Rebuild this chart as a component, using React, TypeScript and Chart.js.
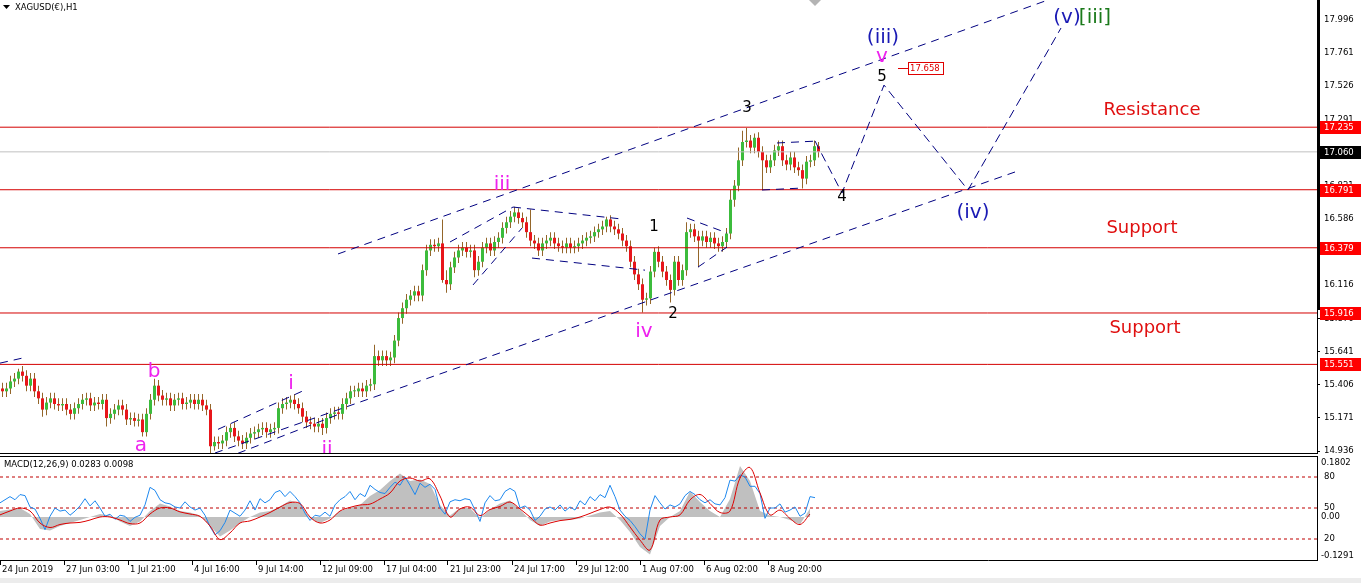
import React, { useEffect, useRef } from "react";
import { Chart, registerables } from "chart.js";
Chart.register(...registerables);

// ---------- DATA ----------
// Candles: each candle covers 4 hourly bars (bar index = hours shown on x axis)
const BARS_PER_CANDLE = 4;
const opens = [
  15.38, 15.36, 15.38, 15.43, 15.45, 15.50, 15.47, 15.40, 15.45, 15.36,
  15.31, 15.23, 15.28, 15.31, 15.27, 15.26, 15.27, 15.23, 15.20, 15.24,
  15.27, 15.30, 15.31, 15.26, 15.28, 15.27, 15.30, 15.17, 15.20, 15.23,
  15.26, 15.23, 15.16, 15.17, 15.15, 15.16, 15.07, 15.20, 15.30, 15.40,
  15.33, 15.30, 15.31, 15.26, 15.30, 15.31, 15.27, 15.28, 15.30, 15.27,
  15.30, 15.26, 15.23, 14.97, 15.00, 14.99, 15.01, 15.07, 15.10, 15.04,
  15.01, 14.99, 15.03, 15.06, 15.07, 15.09, 15.10, 15.07, 15.09, 15.10,
  15.24, 15.27, 15.28, 15.30, 15.27, 15.24, 15.18, 15.14, 15.13, 15.11,
  15.13, 15.10, 15.17, 15.20, 15.21, 15.20, 15.27, 15.31, 15.36, 15.36,
  15.38, 15.36, 15.40, 15.41, 15.61, 15.58, 15.61, 15.58, 15.60, 15.72,
  15.88, 15.95, 16.01, 16.04, 16.07, 16.04, 16.22, 16.36, 16.40, 16.39,
  16.41, 16.15, 16.12, 16.24, 16.31, 16.36, 16.38, 16.35, 16.36, 16.22,
  16.28, 16.38, 16.41, 16.36, 16.42, 16.45, 16.52, 16.56, 16.60, 16.63,
  16.59, 16.56, 16.49, 16.43, 16.41, 16.36, 16.41, 16.43, 16.45, 16.41,
  16.39, 16.38, 16.41, 16.38, 16.39, 16.41, 16.43, 16.45, 16.46, 16.49,
  16.51, 16.53, 16.58, 16.53, 16.51, 16.48, 16.43, 16.39, 16.28, 16.19,
  16.12, 16.01, 16.02, 16.21, 16.35, 16.28, 16.21, 16.15, 16.08, 16.28,
  16.15, 16.22, 16.49, 16.51, 16.46, 16.43, 16.46, 16.42, 16.45, 16.41,
  16.39, 16.42, 16.48, 16.72, 16.82, 17.00, 17.13, 17.14, 17.09, 17.16,
  17.06, 17.00, 16.95, 17.00, 17.07, 17.10, 17.00, 16.97, 17.02, 16.95,
  16.93, 16.87, 16.99, 17.00, 17.10,
];
const highs = [
  15.42, 15.42, 15.47, 15.49, 15.52, 15.54, 15.51, 15.49, 15.49, 15.40,
  15.35, 15.32, 15.35, 15.35, 15.31, 15.31, 15.31, 15.27, 15.28, 15.31,
  15.34, 15.35, 15.35, 15.32, 15.32, 15.34, 15.34, 15.24, 15.27, 15.30,
  15.30, 15.27, 15.21, 15.21, 15.20, 15.20, 15.24, 15.34, 15.45, 15.44,
  15.37, 15.35, 15.35, 15.34, 15.35, 15.35, 15.32, 15.34, 15.34, 15.34,
  15.34, 15.30, 15.27, 15.04, 15.04, 15.05, 15.11, 15.13, 15.14, 15.08,
  15.05, 15.07, 15.10, 15.11, 15.13, 15.14, 15.14, 15.13, 15.14, 15.28,
  15.31, 15.32, 15.33, 15.34, 15.31, 15.28, 15.22, 15.18, 15.17, 15.17,
  15.17, 15.21, 15.24, 15.25, 15.25, 15.31, 15.35, 15.40, 15.40, 15.42,
  15.42, 15.44, 15.45, 15.69, 15.65, 15.65, 15.65, 15.64, 15.76, 15.92,
  15.99, 16.05, 16.08, 16.11, 16.11, 16.26, 16.40, 16.44, 16.44, 16.45,
  16.58, 16.22, 16.28, 16.35, 16.40, 16.42, 16.42, 16.40, 16.40, 16.32,
  16.42, 16.45, 16.45, 16.46, 16.49, 16.56, 16.60, 16.64, 16.67, 16.66,
  16.63, 16.60, 16.65, 16.47, 16.45, 16.45, 16.47, 16.49, 16.49, 16.45,
  16.43, 16.45, 16.45, 16.43, 16.45, 16.47, 16.49, 16.50, 16.53, 16.55,
  16.57, 16.60, 16.61, 16.57, 16.55, 16.52, 16.47, 16.43, 16.32, 16.23,
  16.16, 16.06, 16.25, 16.38, 16.39, 16.32, 16.25, 16.19, 16.32, 16.32,
  16.26, 16.56, 16.55, 16.55, 16.50, 16.50, 16.50, 16.49, 16.49, 16.45,
  16.46, 16.52, 16.79, 16.86, 17.09, 17.21, 17.23, 17.18, 17.19, 17.20,
  17.10, 17.04, 17.04, 17.11, 17.14, 17.14, 17.04, 17.06, 17.06, 16.99,
  16.97, 17.03, 17.04, 17.14, 17.13,
];
const lows = [
  15.32, 15.32, 15.34, 15.39, 15.41, 15.43, 15.36, 15.36, 15.32, 15.27,
  15.18, 15.19, 15.24, 15.23, 15.22, 15.22, 15.19, 15.16, 15.16, 15.20,
  15.23, 15.26, 15.22, 15.22, 15.23, 15.23, 15.11, 15.13, 15.16, 15.19,
  15.19, 15.12, 15.12, 15.11, 15.11, 15.04, 15.04, 15.16, 15.26, 15.29,
  15.26, 15.26, 15.22, 15.22, 15.26, 15.23, 15.23, 15.24, 15.23, 15.23,
  15.22, 15.19, 14.92, 14.94, 14.95, 14.95, 14.97, 15.03, 15.00, 14.97,
  14.95, 14.95, 14.99, 15.02, 15.03, 15.05, 15.03, 15.03, 15.05, 15.06,
  15.20, 15.23, 15.24, 15.23, 15.20, 15.14, 15.10, 15.09, 15.07, 15.07,
  15.05, 15.06, 15.13, 15.16, 15.16, 15.16, 15.23, 15.27, 15.32, 15.32,
  15.32, 15.32, 15.36, 15.37, 15.54, 15.54, 15.54, 15.54, 15.56, 15.68,
  15.84, 15.91, 15.97, 16.00, 16.00, 16.00, 16.18, 16.32, 16.35, 16.35,
  16.13, 16.06, 16.08, 16.20, 16.27, 16.32, 16.31, 16.31, 16.17, 16.18,
  16.24, 16.34, 16.32, 16.32, 16.38, 16.41, 16.48, 16.52, 16.56, 16.55,
  16.52, 16.45, 16.39, 16.37, 16.32, 16.32, 16.37, 16.39, 16.37, 16.35,
  16.34, 16.34, 16.34, 16.34, 16.35, 16.37, 16.39, 16.41, 16.42, 16.45,
  16.47, 16.49, 16.49, 16.47, 16.44, 16.39, 16.35, 16.24, 16.15, 16.08,
  15.92, 15.97, 15.98, 16.17, 16.24, 16.17, 16.11, 15.99, 16.04, 16.11,
  16.11, 16.18, 16.45, 16.42, 16.24, 16.39, 16.38, 16.38, 16.37, 16.35,
  16.35, 16.38, 16.44, 16.67, 16.78, 16.96, 17.09, 17.05, 17.05, 17.02,
  16.79, 16.91, 16.91, 16.96, 17.03, 16.96, 16.93, 16.93, 16.91, 16.89,
  16.80, 16.83, 16.95, 16.96, 17.02,
];
const closes = [
  15.36, 15.38, 15.43, 15.45, 15.50, 15.47, 15.40, 15.45, 15.36, 15.31,
  15.23, 15.28, 15.31, 15.27, 15.26, 15.27, 15.23, 15.20, 15.24, 15.27,
  15.30, 15.31, 15.26, 15.28, 15.27, 15.30, 15.17, 15.20, 15.23, 15.26,
  15.23, 15.16, 15.17, 15.15, 15.16, 15.07, 15.20, 15.30, 15.40, 15.33,
  15.30, 15.31, 15.26, 15.30, 15.31, 15.27, 15.28, 15.30, 15.27, 15.30,
  15.26, 15.23, 14.97, 15.00, 14.99, 15.01, 15.07, 15.10, 15.04, 15.01,
  14.99, 15.03, 15.06, 15.07, 15.09, 15.10, 15.07, 15.09, 15.10, 15.24,
  15.27, 15.28, 15.30, 15.27, 15.24, 15.18, 15.14, 15.13, 15.11, 15.13,
  15.10, 15.17, 15.20, 15.21, 15.20, 15.27, 15.31, 15.36, 15.36, 15.38,
  15.36, 15.40, 15.41, 15.61, 15.58, 15.61, 15.58, 15.60, 15.72, 15.88,
  15.95, 16.01, 16.04, 16.07, 16.04, 16.22, 16.36, 16.40, 16.39, 16.41,
  16.15, 16.12, 16.24, 16.31, 16.36, 16.38, 16.35, 16.36, 16.22, 16.28,
  16.38, 16.41, 16.36, 16.42, 16.45, 16.52, 16.56, 16.60, 16.63, 16.59,
  16.56, 16.49, 16.43, 16.41, 16.36, 16.41, 16.43, 16.45, 16.41, 16.39,
  16.38, 16.41, 16.38, 16.39, 16.41, 16.43, 16.45, 16.46, 16.49, 16.51,
  16.53, 16.58, 16.53, 16.51, 16.48, 16.43, 16.39, 16.28, 16.19, 16.12,
  16.01, 16.02, 16.21, 16.35, 16.28, 16.21, 16.15, 16.08, 16.28, 16.15,
  16.22, 16.49, 16.51, 16.46, 16.43, 16.46, 16.42, 16.45, 16.41, 16.39,
  16.42, 16.48, 16.72, 16.82, 17.00, 17.13, 17.14, 17.09, 17.16, 17.06,
  17.00, 16.95, 17.00, 17.07, 17.10, 17.00, 16.97, 17.02, 16.95, 16.93,
  16.87, 16.99, 17.00, 17.10, 17.06,
];

// Price axis
const priceMin = 14.922;
const priceMax = 18.138;
const priceTicks = [14.936, 15.171, 15.406, 15.641, 15.876, 16.116, 16.351, 16.586, 16.821, 17.056, 17.291, 17.526, 17.761, 17.996];
const srLevels = [17.235, 16.791, 16.379, 15.916, 15.551];
const lastPrice = 17.06;
const targetPrice = 17.658;

// Time axis (bar index of each label)
const barRange = 1317;
const xTickBars = [0, 64, 128, 192, 256, 320, 384, 448, 512, 576, 640, 704, 768];
const xTickLabels = [
  "24 Jun 2019", "27 Jun 03:00", "1 Jul 21:00", "4 Jul 16:00", "9 Jul 14:00", "12 Jul 09:00",
  "17 Jul 04:00", "21 Jul 23:00", "24 Jul 17:00", "29 Jul 12:00", "1 Aug 07:00", "6 Aug 02:00", "8 Aug 20:00",
];

// Trend lines: pairs of [bar, price]
const channelLines = [
  [[338, 16.335], [1048, 18.138]],
  [[215, 14.922], [1015, 16.917]],
  [[0, 15.56], [25, 15.60]],
  [[218, 15.09], [302, 15.36]],
  [[238, 14.92], [340, 15.20]],
  [[450, 16.42], [513, 16.668]],
  [[473, 16.115], [522, 16.519]],
  [[513, 16.668], [622, 16.583]],
  [[532, 16.306], [645, 16.22]],
  [[687, 16.59], [727, 16.484]],
  [[698, 16.242], [727, 16.384]],
  [[777, 17.123], [818, 17.137]],
  [[762, 16.789], [802, 16.803]],
];
const projectionPath = [[815, 17.137], [842, 16.768], [884, 17.534], [968, 16.789], [1061, 17.939]];

// Wave labels
const waveLabels = [
  { text: "a", bar: 141, price: 14.971, kind: "minor" },
  { text: "b", bar: 154, price: 15.5, kind: "minor" },
  { text: "i", bar: 291, price: 15.412, kind: "minor" },
  { text: "ii", bar: 327, price: 14.943, kind: "minor" },
  { text: "iii", bar: 502, price: 16.825, kind: "minor" },
  { text: "iv", bar: 644, price: 15.781, kind: "minor" },
  { text: "v", bar: 882, price: 17.733, kind: "minor" },
  { text: "1", bar: 654, price: 16.526, kind: "count" },
  { text: "2", bar: 673, price: 15.909, kind: "count" },
  { text: "3", bar: 747, price: 17.368, kind: "count" },
  { text: "4", bar: 842, price: 16.736, kind: "count" },
  { text: "5", bar: 882, price: 17.588, kind: "count" },
  { text: "(iii)", bar: 883, price: 17.872, kind: "major" },
  { text: "(iv)", bar: 973, price: 16.629, kind: "major" },
  { text: "(v)", bar: 1067, price: 18.014, kind: "major" },
  { text: "[iii]", bar: 1095, price: 18.014, kind: "degree" },
  { text: "Resistance", bar: 1152, price: 17.357, kind: "zone" },
  { text: "Support", bar: 1142, price: 16.516, kind: "zone" },
  { text: "Support", bar: 1145, price: 15.806, kind: "zone" },
];

// MACD panel
const MACD_STEP = 10;
const macdHist = [
  0.02, 0.025, 0.03, 0.01, -0.04, -0.045, -0.03, -0.02, -0.01, 0.0,
  0.01, 0.005, -0.015, -0.03, -0.015, 0.02, 0.045, 0.035, 0.02, 0.015,
  0.005, -0.03, -0.065, -0.045, -0.02, 0.0, 0.015, 0.02, 0.035, 0.055,
  0.045, -0.005, -0.02, -0.005, 0.02, 0.03, 0.04, 0.07, 0.09, 0.12,
  0.145, 0.12, 0.125, 0.11, 0.04, 0.005, 0.03, 0.03, -0.005, 0.025,
  0.045, 0.055, 0.025, -0.01, -0.03, -0.015, -0.01, -0.01, -0.005, 0.005,
  0.015, 0.02, -0.01, -0.05, -0.1, -0.125, -0.03, 0.0, 0.02, 0.085,
  0.05, 0.02, 0.0, 0.06, 0.17, 0.12, 0.02, 0.005, 0.0, -0.01,
  -0.025, 0.028,
];
const macdSignal = [
  0.007, 0.02, 0.03, 0.02, -0.02, -0.035, -0.025, -0.02, -0.018, -0.01,
  0.0, 0.0, -0.01, -0.022, -0.02, 0.01, 0.03, 0.03, 0.017, 0.01,
  0.002, -0.03, -0.075, -0.053, -0.02, -0.013, 0.0, 0.015, 0.033, 0.048,
  0.045, 0.0, -0.02, -0.01, 0.02, 0.032, 0.04, 0.043, 0.06, 0.08,
  0.12, 0.13, 0.12, 0.127, 0.07, 0.0, 0.027, 0.033, 0.005, 0.025,
  0.035, 0.05, 0.027, 0.0, -0.027, -0.02, -0.012, -0.008, 0.0, 0.012,
  0.025, 0.033, 0.01, -0.033, -0.077, -0.11, -0.01, 0.0, 0.007, 0.057,
  0.075, 0.045, 0.015, 0.02, 0.13, 0.165, 0.08, 0.007, 0.023, -0.005,
  -0.025, 0.01,
];
const OSC_STEP = 5;
const oscValues = [
  55, 58, 61, 58, 63, 62, 51, 49, 40, 29,
  42, 50, 47, 48, 43, 47, 52, 59, 52, 57,
  50, 42, 44, 39, 43, 42, 37, 41, 43, 53,
  70, 67, 58, 55, 54, 51, 50, 56, 51, 48,
  50, 43, 32, 24, 28, 36, 48, 45, 42, 48,
  57, 48, 59, 55, 58, 65, 67, 61, 66, 61,
  55, 45, 38, 43, 42, 46, 42, 53, 58, 61,
  66, 58, 64, 61, 72, 68, 65, 64, 70, 75,
  72, 80, 72, 63, 74, 70, 73, 68, 50, 44,
  56, 58, 57, 59, 58, 48, 37, 55, 62, 57,
  58, 66, 69, 66, 50, 52, 48, 38, 42, 49,
  51, 48, 53, 47, 51, 48, 57, 53, 61, 57,
  63, 60, 72, 61, 48, 42, 38, 32, 25, 20,
  48, 62, 55, 49, 53, 51, 54, 62, 66, 63,
  58, 55, 58, 54, 53, 60, 77, 76, 82, 80,
  71, 71, 64, 40, 50, 50, 54, 46, 48, 51,
  42, 45, 61, 60,
];
const oscLevels = [80, 50, 20];
const macdMin = -0.1433;
const macdMax = 0.2033;
const macdTicks = [-0.1291, 0, 0.1802];
const macdTickLabels = ["-0.1291", "0.00", "0.1802"];
const macdTitle = "MACD(12,26,9) 0.0283 0.0098";
const chartTitle = "XAGUSD(€),H1";

// ---------- STYLES ----------
const FONT = "DejaVu Sans";
const SMALL = 8.5;
const UP = "#3cbc3c";
const DOWN = "#e8161b";
const WICK = "#94662a";
const RED_LINE = "#d40000";
const NAVY = "#000080";
const labelStyles: Record<string, { color: string; size: number }> = {
  minor: { color: "#ee22ee", size: 20 },
  count: { color: "#000000", size: 15 },
  major: { color: "#1a1ab4", size: 20 },
  degree: { color: "#1b7a1b", size: 20 },
  zone: { color: "#e01010", size: 18 },
};

const candleBar = (i: number) => i * BARS_PER_CANDLE + BARS_PER_CANDLE / 2 + 0.5;

function lineDs(points: number[][], color: string, dash: number[], axis = "y", order = 1) {
  return {
    type: "line",
    data: points.map((p) => ({ x: p[0], y: p[1] })),
    borderColor: color,
    borderWidth: 1,
    borderDash: dash,
    pointRadius: 0,
    fill: false,
    tension: 0,
    yAxisID: axis,
    order,
  };
}

const mainPlugin = {
  id: "mainAnnot",
  afterDatasetsDraw(chart: any) {
    const { ctx, chartArea, scales } = chart;
    const xs = scales.x;
    const ys = scales.y;
    ctx.save();
    ctx.beginPath();
    ctx.rect(chartArea.left, chartArea.top, chartArea.right - chartArea.left, chartArea.bottom - chartArea.top);
    ctx.clip();
    ctx.textAlign = "center";
    ctx.textBaseline = "middle";
    for (const l of waveLabels) {
      const st = labelStyles[l.kind];
      ctx.font = `${st.size}px "${FONT}"`;
      ctx.fillStyle = st.color;
      ctx.fillText(l.text, xs.getPixelForValue(l.bar), ys.getPixelForValue(l.price));
    }
    // target price tag
    const ty = Math.round(ys.getPixelForValue(targetPrice)) + 0.5;
    const x0 = xs.getPixelForValue(898);
    const x1 = xs.getPixelForValue(908);
    const x2 = xs.getPixelForValue(943);
    ctx.strokeStyle = "#e00000";
    ctx.lineWidth = 1;
    ctx.beginPath();
    ctx.moveTo(x0, ty);
    ctx.lineTo(x1, ty);
    ctx.stroke();
    ctx.fillStyle = "#fff";
    ctx.fillRect(x1, ty - 6, x2 - x1, 12);
    ctx.strokeRect(Math.round(x1) + 0.5, ty - 6, Math.round(x2 - x1), 12);
    ctx.fillStyle = "#e00000";
    ctx.font = `${SMALL}px "${FONT}"`;
    ctx.textAlign = "left";
    ctx.fillText(targetPrice.toFixed(3), x1 + 2, ty + 0.5);
    // chart shift marker
    ctx.fillStyle = "#b4b4b4";
    ctx.beginPath();
    ctx.moveTo(809, 0);
    ctx.lineTo(821, 0);
    ctx.lineTo(815, 6);
    ctx.closePath();
    ctx.fill();
    ctx.restore();
  },
  afterDraw(chart: any) {
    const { ctx, chartArea, scales } = chart;
    const ys = scales.y;
    ctx.save();
    ctx.fillStyle = "#000";
    ctx.fillRect(chartArea.right, 0, 3, 310);
    ctx.fillRect(0, chartArea.bottom, chartArea.right + 1, 1);
    ctx.font = `${SMALL}px "${FONT}"`;
    ctx.textBaseline = "middle";
    ctx.textAlign = "left";
    const tag = (v: number, bg: string) => {
      const py = Math.round(ys.getPixelForValue(v));
      ctx.fillStyle = bg;
      ctx.fillRect(chartArea.right + 3, py - 6, 41, 13);
      ctx.fillStyle = "#fff";
      ctx.fillText(v.toFixed(3), chartArea.right + 7, py + 0.5);
    };
    for (const lv of srLevels) tag(lv, "#ff0000");
    tag(lastPrice, "#000");
    // title
    ctx.fillStyle = "#000";
    ctx.beginPath();
    ctx.moveTo(3, 5);
    ctx.lineTo(10, 5);
    ctx.lineTo(6.5, 9);
    ctx.closePath();
    ctx.fill();
    ctx.fillText(chartTitle, 15, 7.5);
    ctx.restore();
  },
};

const macdPlugin = {
  id: "macdAnnot",
  afterDraw(chart: any) {
    const { ctx, chartArea, scales } = chart;
    ctx.save();
    ctx.fillStyle = "#000";
    ctx.fillRect(0, chartArea.top, chartArea.right + 1, 1);
    ctx.font = `${SMALL}px "${FONT}"`;
    ctx.textBaseline = "middle";
    ctx.textAlign = "left";
    ctx.fillText(macdTitle, 4, chartArea.top + 9);
    const os = scales.osc;
    for (const lv of oscLevels) ctx.fillText(String(lv), chartArea.right + 7, os.getPixelForValue(lv));
    ctx.fillStyle = "#ececec";
    ctx.fillRect(0, chart.height - 5, chart.width, 5);
    ctx.restore();
  },
};

export default function App() {
  const refA = useRef<HTMLCanvasElement>(null);
  const refB = useRef<HTMLCanvasElement>(null);

  useEffect(() => {
    document.body.style.margin = "0";
    Chart.defaults.font.family = FONT;

    const tickFont = { family: FONT, size: SMALL };

    const mainDatasets: any[] = [
      {
        type: "bar",
        data: opens.map((_, i) => ({ x: candleBar(i), y: [lows[i], highs[i]] })),
        backgroundColor: WICK,
        barThickness: 1,
        grouped: false,
        inflateAmount: 0,
        borderWidth: 0,
        order: 20,
      },
      {
        type: "bar",
        data: opens.map((o, i) => ({ x: candleBar(i), y: [o, closes[i]] })),
        backgroundColor: (c: any) =>
          c.dataIndex !== undefined && closes[c.dataIndex] >= opens[c.dataIndex] ? UP : DOWN,
        barThickness: 3,
        minBarLength: 1,
        grouped: false,
        inflateAmount: 0,
        borderWidth: 0,
        order: 19,
      },
      ...srLevels.map((lv) => lineDs([[0, lv], [barRange, lv]], RED_LINE, [], "y", 5)),
      lineDs([[0, lastPrice], [barRange, lastPrice]], "#c0c0c0", [], "y", 6),
      ...channelLines.map((seg) => lineDs(seg, NAVY, [8, 6], "y", 1)),
      lineDs(projectionPath, NAVY, [9, 5], "y", 1),
    ];

    const a = new Chart(refA.current as HTMLCanvasElement, {
      type: "bar",
      data: { datasets: mainDatasets },
      options: {
        responsive: false,
        animation: false,
        events: [],
        layout: { padding: { top: 0, left: 0, right: 0, bottom: 2 } },
        plugins: { legend: { display: false }, tooltip: { enabled: false } },
        scales: {
          x: {
            type: "linear",
            min: 0,
            max: barRange,
            offset: false,
            display: false,
            grid: { offset: false },
          },
          y: {
            type: "linear",
            position: "right",
            min: priceMin,
            max: priceMax,
            bounds: "data",
            beginAtZero: false,
            afterBuildTicks: (s: any) => {
              s.ticks = priceTicks.map((v) => ({ value: v }));
            },
            afterFit: (s: any) => {
              s.width = 44;
              s.paddingTop = 0;
              s.paddingBottom = 0;
            },
            ticks: {
              autoSkip: false,
              callback: (v: any) => Number(v).toFixed(3),
              font: tickFont,
              color: "#000",
              padding: 4,
            },
            grid: { drawOnChartArea: false, drawTicks: true, tickLength: 3, color: "#000" },
            border: { display: true, color: "#000", width: 1 },
          },
        },
      } as any,
      plugins: [mainPlugin],
    } as any);

    const macdDatasets: any[] = [
      {
        type: "line",
        data: macdHist.map((v, i) => ({ x: i * MACD_STEP, y: v })),
        yAxisID: "macd",
        fill: "origin",
        backgroundColor: "#c0c0c0",
        borderWidth: 0,
        borderColor: "rgba(0,0,0,0)",
        pointRadius: 0,
        tension: 0,
        order: 10,
      },
      ...oscLevels.map((lv) => lineDs([[0, lv], [barRange, lv]], "#c00000", [3, 3], "osc", 8)),
      {
        type: "line",
        data: oscValues.map((v, i) => ({ x: i * OSC_STEP, y: v })),
        yAxisID: "osc",
        borderColor: "#1e88ee",
        borderWidth: 1,
        pointRadius: 0,
        fill: false,
        tension: 0,
        order: 4,
      },
      {
        type: "line",
        data: macdSignal.map((v, i) => ({ x: i * MACD_STEP, y: v })),
        yAxisID: "macd",
        borderColor: "#dd0000",
        borderWidth: 1,
        pointRadius: 0,
        fill: false,
        tension: 0.35,
        order: 2,
      },
    ];

    const b = new Chart(refB.current as HTMLCanvasElement, {
      type: "line",
      data: { datasets: macdDatasets },
      options: {
        responsive: false,
        animation: false,
        events: [],
        layout: { padding: { top: 1, left: 0, right: 0, bottom: 0 } },
        plugins: { legend: { display: false }, tooltip: { enabled: false } },
        scales: {
          x: {
            type: "linear",
            position: "bottom",
            min: 0,
            max: barRange,
            offset: false,
            afterBuildTicks: (s: any) => {
              s.ticks = xTickBars.map((v) => ({ value: v }));
            },
            afterFit: (s: any) => {
              s.height = 23;
              s.paddingLeft = 0;
              s.paddingRight = 0;
            },
            ticks: {
              autoSkip: false,
              maxRotation: 0,
              minRotation: 0,
              align: "start",
              labelOffset: 2,
              padding: 0,
              callback: (_v: any, i: number) => xTickLabels[i],
              font: tickFont,
              color: "#000",
            },
            grid: { drawOnChartArea: false, drawTicks: true, tickLength: 5, color: "#000", offset: false },
            border: { display: true, color: "#000", width: 1 },
          },
          macd: {
            type: "linear",
            position: "right",
            min: macdMin,
            max: macdMax,
            bounds: "data",
            afterBuildTicks: (s: any) => {
              s.ticks = macdTicks.map((v) => ({ value: v }));
            },
            afterFit: (s: any) => {
              s.width = 44;
              s.paddingTop = 0;
              s.paddingBottom = 0;
            },
            ticks: {
              autoSkip: false,
              callback: (_v: any, i: number) => macdTickLabels[i],
              font: tickFont,
              color: "#000",
              padding: 4,
            },
            grid: { drawOnChartArea: false, drawTicks: false, tickLength: 3, color: "#000" },
            border: { display: true, color: "#000", width: 1 },
          },
          osc: {
            type: "linear",
            position: "left",
            display: false,
            min: -0.32,
            max: 100.32,
            afterFit: (s: any) => {
              s.width = 0;
              s.paddingTop = 0;
              s.paddingBottom = 0;
            },
          },
        },
      } as any,
      plugins: [macdPlugin],
    } as any);

    return () => {
      a.destroy();
      b.destroy();
    };
  }, []);

  return (
    <div style={{ width: 1361, height: 583, background: "#fff", overflow: "hidden" }}>
      <canvas ref={refA} width={1361} height={455} style={{ display: "block", width: 1361, height: 455 }} />
      <canvas ref={refB} width={1361} height={128} style={{ display: "block", width: 1361, height: 128 }} />
    </div>
  );
}
